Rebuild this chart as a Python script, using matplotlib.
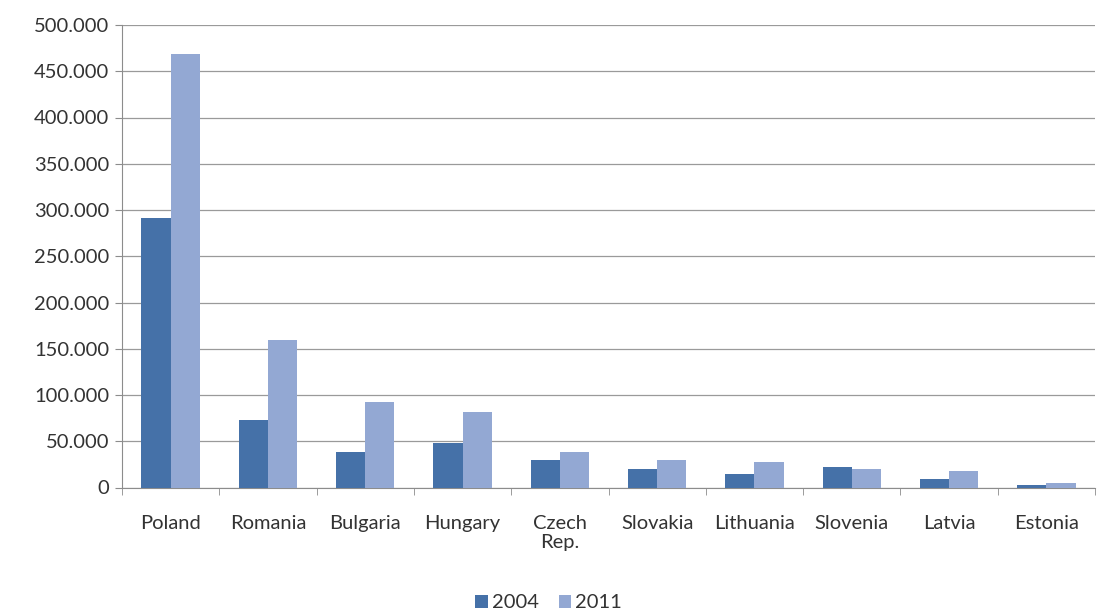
import numpy as np
import matplotlib
matplotlib.use('Agg')
import matplotlib.pyplot as plt
from matplotlib.ticker import FuncFormatter

countries = ['Poland', 'Romania', 'Bulgaria', 'Hungary', 'Czech\nRep.',
             'Slovakia', 'Lithuania', 'Slovenia', 'Latvia', 'Estonia']
vals_2004 = [291000, 73500, 38000, 48000, 29500, 19500, 15000, 22000, 9500, 3000]
vals_2011 = [469000, 159000, 92500, 82000, 38000, 29500, 28000, 20000, 18000, 4500]

plt.rcParams['font.family'] = ['Lato', 'DejaVu Sans']
fs = 14.5

fig = plt.figure(figsize=(10.97, 6.13), dpi=100)
ax = fig.add_axes([122 / 1097, 1 - 487.5 / 613, (1095 - 122) / 1097, (487.5 - 25) / 613])

x = np.arange(len(countries))
w = 0.3
ax.bar(x - w / 2, vals_2004, w, color='#4571a8', label='2004', zorder=3)
ax.bar(x + w / 2, vals_2011, w, color='#93a8d3', label='2011', zorder=3)

ax.set_xlim(-0.5, len(countries) - 0.5)
ax.set_ylim(0, 500000)
ax.set_yticks(np.arange(0, 500001, 50000))
ax.yaxis.set_major_formatter(FuncFormatter(lambda v, p: f'{int(v):,}'.replace(',', '.')))
ax.yaxis.grid(True, color='#9a9a9a', linewidth=0.9, zorder=0)
ax.set_axisbelow(True)

ax.set_xticks(x)
ax.set_xticklabels(countries, fontsize=fs, color='#333333', linespacing=1.15)
ax.set_xticks(np.arange(-0.5, len(countries)), minor=True)
ax.tick_params(axis='x', which='major', length=0, pad=20)
ax.tick_params(axis='x', which='minor', length=5, color='#8c8c8c', direction='out')
ax.tick_params(axis='y', length=5, color='#8c8c8c', labelsize=fs, labelcolor='#333333', pad=4)

for s in ['top', 'right']:
    ax.spines[s].set_visible(False)
for s in ['left', 'bottom']:
    ax.spines[s].set_color('#8c8c8c')

fig.legend(loc='center', bbox_to_anchor=(0.5, 1 - 603 / 613), ncol=2, frameon=False,
           fontsize=fs, handlelength=0.6, handleheight=0.6, handletextpad=0.2,
           columnspacing=1.0, labelcolor='#333333')

fig.savefig('out.png', dpi=100)
